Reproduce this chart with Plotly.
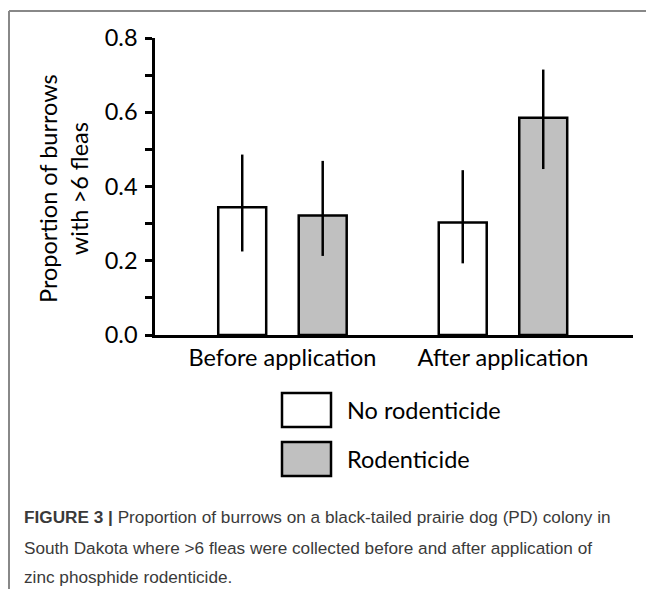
import plotly.graph_objects as go

categories = ["Before application", "After application"]
series_names = ["No rodenticide", "Rodenticide"]
no_rod = [0.344, 0.303]
no_rod_hi = [0.486, 0.444]
no_rod_lo = [0.225, 0.193]
rod = [0.322, 0.585]
rod_hi = [0.469, 0.715]
rod_lo = [0.213, 0.447]
y_ticks = [0.0, 0.2, 0.4, 0.6, 0.8]
y_ticklabels = ["0.0", "0.2", "0.4", "0.6", "0.8"]

OFF = 8  # default page body margin
W, H = 654 - OFF, 589 - OFF
# plot area in screen pixels, converted to figure pixels
L, R, T, B = 155 - OFF, 633 - OFF, 38 - OFF, 335 - OFF


def px(x):
    # screen x -> paper
    return (x - OFF - L) / (R - L)


def py(y):
    # screen y -> paper
    return (B - (y - OFF)) / (B - T)


fills = ["#ffffff", "#c0c0c0"]
vals = [no_rod, rod]
his = [no_rod_hi, rod_hi]
los = [no_rod_lo, rod_lo]

fig = go.Figure()
for name, v, hi, lo, fc in zip(series_names, vals, his, los, fills):
    fig.add_trace(go.Bar(
        x=categories, y=v, name=name,
        marker=dict(color=fc, line=dict(color="black", width=2.5)),
        error_y=dict(type="data", symmetric=False,
                     array=[h - a for h, a in zip(hi, v)],
                     arrayminus=[a - l for l, a in zip(lo, v)],
                     color="black", thickness=2.5, width=0),
        showlegend=False,
    ))

font_main = "Lato, 'Open Sans', sans-serif"
FS = 23.5

fig.update_layout(
    width=W, height=H,
    margin=dict(l=L, r=W - R, t=T, b=H - B, pad=0),
    paper_bgcolor="white", plot_bgcolor="white",
    barmode="group", bargap=0.27, bargroupgap=0.404,
    font=dict(family=font_main, size=FS, color="black"),
    xaxis=dict(
        type="category", range=[-0.578, 1.5896],
        showline=True, linecolor="black", linewidth=2.5,
        ticks="", showgrid=False, zeroline=False,
        tickfont=dict(family=font_main, size=FS, color="black"),
    ),
    yaxis=dict(
        range=[0, 0.8], tickvals=y_ticks, ticktext=y_ticklabels,
        showline=True, linecolor="black", linewidth=2.5,
        ticks="outside", ticklen=7, tickwidth=2.5, tickcolor="black",
        minor=dict(ticks="outside", ticklen=7, tickwidth=2.5, tickcolor="black", dtick=0.1, showgrid=False),
        showgrid=False, zeroline=False,
        ticklabelstandoff=3,
        tickfont=dict(family=font_main, size=FS, color="black"),
    ),
)

shapes = []
# frame lines
shapes.append(dict(type="line", xref="paper", yref="paper", x0=px(9), x1=px(670), y0=py(11), y1=py(11),
                   line=dict(color="#888888", width=2)))
shapes.append(dict(type="line", xref="paper", yref="paper", x0=px(9), x1=px(9), y0=py(11), y1=py(600),
                   line=dict(color="#888888", width=2)))
# legend boxes
leg_boxes = [(282, 393, 331, 427), (282, 442, 331, 476)]
for (x0, y0, x1, y1), fc in zip(leg_boxes, fills):
    shapes.append(dict(type="rect", xref="paper", yref="paper", x0=px(x0), x1=px(x1), y0=py(y1), y1=py(y0),
                       fillcolor=fc, line=dict(color="black", width=2.5)))
fig.update_layout(shapes=shapes)

ann = []
ann.append(dict(xref="paper", yref="paper", x=px(63), y=py(189), text="Proportion of burrows<br>with >6 fleas",
                textangle=-90, showarrow=False, xanchor="center", yanchor="middle",
                font=dict(family=font_main, size=FS, color="black")))
for (x0, y0, x1, y1), name in zip(leg_boxes, series_names):
    ann.append(dict(xref="paper", yref="paper", x=px(345), y=py((y0 + y1) / 2), text=name,
                    showarrow=False, xanchor="left", yanchor="middle",
                    font=dict(family=font_main, size=FS, color="black")))
cap_font = dict(family="'Liberation Sans', Arial, sans-serif", size=17.2, color="#3a3a3a")
cap_lines = [
    "<b>FIGURE 3 |</b> Proportion of burrows on a black-tailed prairie dog (PD) colony in",
    "South Dakota where >6 fleas were collected before and after application of",
    "zinc phosphide rodenticide.",
]
for text, yc in zip(cap_lines, [517, 548, 577]):
    ann.append(dict(xref="paper", yref="paper", x=px(22), y=py(yc), text=text, showarrow=False,
                    xanchor="left", yanchor="middle", font=cap_font))
fig.update_layout(annotations=ann)

fig.write_html("out.html")
